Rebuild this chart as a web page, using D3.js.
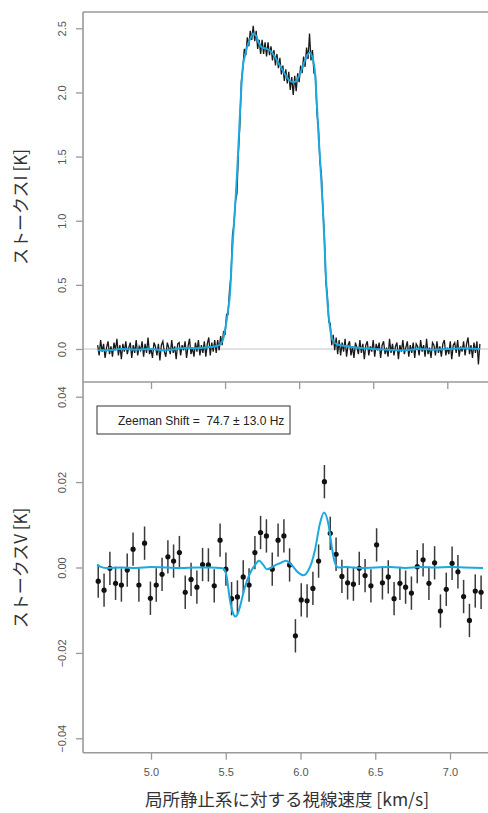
<!DOCTYPE html>
<html>
<head>
<meta charset="utf-8">
<script src="https://cdn.jsdelivr.net/npm/d3@7/dist/d3.min.js"></script>
<style>
  html, body { margin: 0; padding: 0; background: #fff; }
  svg { display: block; }
</style>
</head>
<body>
<svg id="chart" width="488" height="813"></svg>
<script>
// ---------------- DATA ----------------
// Stokes I observed spectrum (velocity channels, km/s)
const stokesIVel = [
4.64,4.65,4.66,4.67,4.68,4.69,
4.70,4.71,4.72,4.73,4.74,4.75,4.76,4.77,4.78,4.79,
4.80,4.81,4.82,4.83,4.84,4.85,4.86,4.87,4.88,4.89,
4.90,4.91,4.92,4.93,4.94,4.95,4.96,4.97,4.98,4.99,
5.00,5.01,5.02,5.03,5.04,5.05,5.06,5.07,5.08,5.09,
5.10,5.11,5.12,5.13,5.14,5.15,5.16,5.17,5.18,5.19,
5.20,5.21,5.22,5.23,5.24,5.25,5.26,5.27,5.28,5.29,
5.30,5.31,5.32,5.33,5.34,5.35,5.36,5.37,5.38,5.39,
5.40,5.41,5.42,5.43,5.44,5.45,5.46,5.47,5.48,5.49,
5.50,5.51,5.52,5.53,5.54,5.55,5.56,5.57,5.58,5.59,
5.60,5.61,5.62,5.63,5.64,5.65,5.66,5.67,5.68,5.69,
5.70,5.71,5.72,5.73,5.74,5.75,5.76,5.77,5.78,5.79,
5.80,5.81,5.82,5.83,5.84,5.85,5.86,5.87,5.88,5.89,
5.90,5.91,5.92,5.93,5.94,5.95,5.96,5.97,5.98,5.99,
6.00,6.01,6.02,6.03,6.04,6.05,6.06,6.07,6.08,6.09,
6.10,6.11,6.12,6.13,6.14,6.15,6.16,6.17,6.18,6.19,
6.20,6.21,6.22,6.23,6.24,6.25,6.26,6.27,6.28,6.29,
6.30,6.31,6.32,6.33,6.34,6.35,6.36,6.37,6.38,6.39,
6.40,6.41,6.42,6.43,6.44,6.45,6.46,6.47,6.48,6.49,
6.50,6.51,6.52,6.53,6.54,6.55,6.56,6.57,6.58,6.59,
6.60,6.61,6.62,6.63,6.64,6.65,6.66,6.67,6.68,6.69,
6.70,6.71,6.72,6.73,6.74,6.75,6.76,6.77,6.78,6.79,
6.80,6.81,6.82,6.83,6.84,6.85,6.86,6.87,6.88,6.89,
6.90,6.91,6.92,6.93,6.94,6.95,6.96,6.97,6.98,6.99,
7.00,7.01,7.02,7.03,7.04,7.05,7.06,7.07,7.08,7.09,
7.10,7.11,7.12,7.13,7.14,7.15,7.16,7.17,7.18,7.19,
7.20,7.21,7.22
];
// Stokes I observed brightness (K)
const stokesIObs = [
// 4.64 - 5.44
0.03,-0.05,0.07,-0.02,0.04,-0.07,0.01,0.06,-0.04,0.02,
-0.06,0.05,-0.01,0.08,-0.05,0.03,-0.08,0.04,-0.02,0.06,
-0.04,0.01,0.05,-0.07,0.03,-0.03,0.07,-0.05,0.02,-0.01,
0.06,-0.06,0.04,-0.03,0.09,-0.04,0.00,-0.07,0.05,0.02,
-0.05,0.04,-0.09,0.03,0.06,-0.02,-0.06,0.05,0.01,-0.04,
0.07,-0.03,0.02,-0.08,0.04,0.05,-0.05,0.03,-0.01,0.06,
-0.07,0.02,0.08,-0.04,0.01,-0.06,0.05,-0.02,0.07,-0.05,
0.03,-0.03,0.06,-0.06,0.04,0.09,-0.05,0.05,-0.02,0.07,-0.03,
// 5.45 - 6.25
0.07,-0.01,0.10,0.03,0.14,0.11,0.27,0.27,0.46,0.57,
0.89,0.97,1.15,1.21,1.53,1.75,2.09,2.19,2.34,2.29,
2.43,2.36,2.48,2.41,2.52,2.40,2.48,2.34,2.41,2.30,
2.41,2.30,2.39,2.28,2.39,2.29,2.36,2.25,2.33,2.21,
2.30,2.19,2.27,2.14,2.21,2.09,2.18,2.07,2.16,2.02,
2.12,1.98,2.13,2.01,2.15,2.08,2.21,2.15,2.28,2.20,
2.35,2.26,2.46,2.25,2.33,2.15,2.14,1.84,1.73,1.46,
1.37,1.10,0.89,0.52,0.43,0.21,0.20,0.03,0.11,-0.01,0.09,
// 6.26 - 7.22
-0.04,0.07,-0.05,0.05,-0.02,0.08,-0.06,0.03,0.06,-0.05,
0.02,-0.07,0.05,0.01,-0.04,0.07,-0.03,0.04,-0.08,0.03,
0.06,-0.05,0.02,-0.02,0.07,-0.06,0.04,-0.01,0.05,-0.07,
0.03,0.06,-0.04,0.01,-0.06,0.08,-0.03,0.04,-0.05,0.02,
0.05,-0.08,0.03,-0.02,0.07,-0.04,0.01,0.06,-0.06,0.03,
-0.03,0.05,-0.07,0.04,0.02,-0.05,0.07,-0.02,0.03,-0.06,
0.08,-0.04,0.01,-0.07,0.05,0.03,-0.05,0.06,-0.03,0.02,
-0.06,0.04,0.07,-0.05,0.01,-0.04,0.06,-0.08,0.03,0.05,
-0.03,0.07,-0.06,0.02,-0.02,0.06,-0.05,0.04,0.09,-0.04,
0.03,-0.07,0.05,-0.03,0.06,-0.12,0.04
];
// Stokes I model fit (cyan)
const fitIVel = [4.64,4.70,4.80,4.90,5.00,5.10,5.20,5.25,5.30,5.35,5.40,5.45,5.47,5.49,5.50,5.52,5.533,5.55,5.56,5.57,5.58,5.59,5.60,5.61,5.62,5.635,5.65,5.67,5.69,5.71,5.73,5.75,5.78,5.81,5.84,5.87,5.90,5.93,5.96,5.98,6.00,6.03,6.05,6.07,6.09,6.107,6.12,6.13,6.14,6.15,6.16,6.17,6.18,6.19,6.20,6.21,6.23,6.25,6.30,6.40,6.50,6.60,6.70,6.80,6.90,7.00,7.10,7.22];
const fitI    = [-0.01,-0.01,0.00,-0.005,0.00,-0.01,0.005,0.01,0.005,0.01,0.015,0.025,0.04,0.09,0.15,0.30,0.43,0.80,0.98,1.15,1.35,1.58,1.82,2.04,2.20,2.29,2.36,2.42,2.46,2.44,2.38,2.35,2.34,2.32,2.27,2.21,2.15,2.10,2.08,2.09,2.13,2.22,2.28,2.31,2.27,2.15,1.90,1.68,1.50,1.30,1.10,0.85,0.58,0.38,0.25,0.15,0.06,0.04,0.025,0.01,0.00,-0.005,-0.01,0.00,-0.005,0.00,0.005,0.00];

// Stokes V binned data (points with error bars)
const stokesVVel = [4.647,4.686,4.725,4.763,4.802,4.841,4.880,4.919,4.957,4.996,5.035,5.074,5.113,5.151,5.190,5.229,5.268,5.307,5.345,5.384,5.423,5.462,5.501,5.539,5.578,5.617,5.656,5.695,5.733,5.772,5.811,5.850,5.889,5.927,5.966,6.005,6.044,6.083,6.121,6.160,6.199,6.238,6.277,6.315,6.354,6.393,6.432,6.471,6.509,6.548,6.587,6.626,6.665,6.703,6.742,6.781,6.820,6.859,6.897,6.936,6.975,7.014,7.053,7.091,7.130,7.169,7.208];
const stokesV = [-0.0032,-0.0053,-0.0002,-0.0037,-0.0041,-0.0006,0.0043,-0.0041,0.0057,-0.0072,-0.0041,-0.0016,0.0025,0.0015,0.0035,-0.0058,-0.0028,-0.0046,0.0007,0.0006,-0.0043,0.0064,-0.0004,-0.0073,-0.0069,-0.0022,-0.0041,0.0035,0.0082,0.0074,-0.0004,0.0064,0.0074,0.0006,-0.0160,-0.0076,-0.0078,-0.0049,0.0015,0.0201,0.0080,0.0031,-0.0021,-0.0036,-0.0039,-0.0002,-0.0019,-0.0043,0.0053,-0.0036,-0.0022,-0.0073,-0.0037,-0.0046,-0.0060,0.0002,0.0018,-0.0037,0.0011,-0.0102,-0.0051,0.0010,-0.0010,-0.0068,-0.0124,-0.0055,-0.0058];
const stokesVErr = 0.0039;

// Stokes V model fit (cyan)
const fitVVel = [4.64,4.66,4.70,4.80,4.90,5.00,5.10,5.20,5.30,5.40,5.47,5.49,5.506,5.528,5.547,5.567,5.58,5.595,5.612,5.629,5.662,5.696,5.722,5.751,5.774,5.807,5.835,5.863,5.903,5.941,5.985,6.019,6.052,6.075,6.097,6.13,6.157,6.186,6.209,6.231,6.253,6.30,6.40,6.50,6.60,6.70,6.80,6.90,7.00,7.10,7.221];
const fitV    = [0.0007,0.0002,-0.0001,0.0,-0.0001,0.0001,0.0,-0.0001,0.0,0.0,-0.0001,-0.0004,-0.0021,-0.0076,-0.0105,-0.0115,-0.0108,-0.0092,-0.0068,-0.0045,-0.0014,0.0006,0.0016,0.0006,-0.0004,0.0,0.0006,0.0010,0.0016,0.0006,-0.0012,-0.0018,-0.0007,0.0012,0.0041,0.0103,0.0129,0.0103,0.0049,0.0010,0.0,0.0001,-0.0001,0.0,0.0001,-0.0001,0.0001,0.0,0.0001,0.0,-0.0001];

// Tick labels / texts
const xTicks = [5.0, 5.5, 6.0, 6.5, 7.0];
const yTicksI = [0.0, 0.5, 1.0, 1.5, 2.0, 2.5];
const yTicksV = [-0.04, -0.02, 0.00, 0.02, 0.04];
const yLabelI = "ストークスI [K]";
const yLabelV = "ストークスV [K]";
const xLabel = "局所静止系に対する視線速度 [km/s]";
const legendText = "Zeeman Shift =  74.7 ± 13.0 Hz";

// ---------------- LAYOUT ----------------
const svg = d3.select("#chart");
const L = 83, R = 489;
const topT = 12, topB = 382, botB = 752.7;
const axisCol = "#9a9a9a", tickTextCol = "#555";
const cyan = "#1ba9e0";
const numFont = "'Liberation Sans', Arial, Helvetica, sans-serif";
const jpFont = "'Noto Sans CJK JP', 'Noto Sans', sans-serif";

const xTop = d3.scaleLinear().domain([5, 7]).range([151, 447.3]);
const xBot = d3.scaleLinear().domain([5, 7]).range([151, 450]);
const yTop = d3.scaleLinear().domain([0, 2.5]).range([349, 28.3]);
const yBot = d3.scaleLinear().domain([-0.04, 0.04]).range([738.3, 396.7]);

// ---------- top panel ----------
const gTop = svg.append("g");
gTop.append("line").attr("x1", L).attr("x2", R).attr("y1", yTop(0)).attr("y2", yTop(0))
  .attr("stroke", "#c4c4c4").attr("stroke-width", 1);

const obsI = stokesIVel.map((v, i) => [v, stokesIObs[i]]);
gTop.append("path").datum(obsI)
  .attr("d", d3.line().x(d => xTop(d[0])).y(d => yTop(d[1])))
  .attr("fill", "none").attr("stroke", "#1a1a1a").attr("stroke-width", 1.3)
  .attr("stroke-linejoin", "miter");

const fitIData = fitIVel.map((v, i) => [v, fitI[i]]);
gTop.append("path").datum(fitIData)
  .attr("d", d3.line().curve(d3.curveMonotoneX).x(d => xTop(d[0])).y(d => yTop(d[1])))
  .attr("fill", "none").attr("stroke", cyan).attr("stroke-width", 2);

// ---------- bottom panel ----------
const gBot = svg.append("g");
const vData = stokesVVel.map((v, i) => ({ v, s: stokesV[i] }));
gBot.selectAll("line.err").data(vData).join("line").attr("class", "err")
  .attr("x1", d => xBot(d.v)).attr("x2", d => xBot(d.v))
  .attr("y1", d => yBot(d.s - stokesVErr)).attr("y2", d => yBot(d.s + stokesVErr))
  .attr("stroke", "#3a3a3a").attr("stroke-width", 1.5);
gBot.selectAll("circle.pt").data(vData).join("circle").attr("class", "pt")
  .attr("cx", d => xBot(d.v)).attr("cy", d => yBot(d.s)).attr("r", 2.6)
  .attr("fill", "#111");

const fitVData = fitVVel.map((v, i) => [v, fitV[i]]);
gBot.append("path").datum(fitVData)
  .attr("d", d3.line().curve(d3.curveMonotoneX).x(d => xBot(d[0])).y(d => yBot(d[1])))
  .attr("fill", "none").attr("stroke", cyan).attr("stroke-width", 2);

// legend
gBot.append("rect").attr("x", 97).attr("y", 406).attr("width", 193).attr("height", 28)
  .attr("fill", "#fff").attr("stroke", "#333").attr("stroke-width", 1);
gBot.append("text").attr("x", 118).attr("y", 424.5)
  .attr("font-family", numFont).attr("font-size", 12).attr("fill", "#222")
  .style("white-space", "pre").text(legendText);

// ---------- axes ----------
function styleAxis(g) {
  g.select(".domain").remove();
  g.selectAll(".tick line").attr("stroke", axisCol).attr("stroke-width", 1.3);
  g.selectAll(".tick text").attr("fill", tickTextCol).attr("font-family", numFont).attr("font-size", 11);
}
function rotateY(g) {
  g.selectAll(".tick text")
    .attr("transform", "rotate(-90)")
    .attr("x", 0).attr("y", -21).attr("dy", "0.35em")
    .attr("text-anchor", "middle");
}

svg.append("g").attr("transform", `translate(0,${topB})`)
  .call(d3.axisBottom(xTop).tickValues(xTicks).tickSize(7).tickSizeOuter(0).tickFormat(""))
  .call(styleAxis);
svg.append("g").attr("transform", `translate(${L},0)`)
  .call(d3.axisLeft(yTop).tickValues(yTicksI).tickSize(7).tickSizeOuter(0).tickFormat(d3.format(".1f")))
  .call(styleAxis).call(rotateY);
svg.append("g").attr("transform", `translate(0,${botB})`)
  .call(d3.axisBottom(xBot).tickValues(xTicks).tickSize(7).tickSizeOuter(0).tickPadding(9).tickFormat(d3.format(".1f")))
  .call(styleAxis);
svg.append("g").attr("transform", `translate(${L},0)`)
  .call(d3.axisLeft(yBot).tickValues(yTicksV).tickSize(7).tickSizeOuter(0).tickFormat(d3.format(".2f")))
  .call(styleAxis).call(rotateY);
svg.selectAll(".tick text").text(function() { return this.textContent.replace("-", "\u2212"); });

// frame lines
const frame = svg.append("g").attr("stroke", axisCol).attr("stroke-width", 1.6).attr("fill", "none");
frame.append("line").attr("x1", L).attr("x2", R).attr("y1", topT).attr("y2", topT);
frame.append("line").attr("x1", L).attr("x2", R).attr("y1", topB).attr("y2", topB);
frame.append("line").attr("x1", L).attr("x2", L).attr("y1", topT).attr("y2", botB);
frame.append("line").attr("x1", L).attr("x2", R).attr("y1", botB).attr("y2", botB);

// axis titles
svg.append("text").attr("transform", "translate(27,207) rotate(-90)")
  .attr("text-anchor", "middle").attr("font-family", jpFont).attr("font-size", 17)
  .attr("fill", "#333").text(yLabelI);
svg.append("text").attr("transform", "translate(27,568) rotate(-90)")
  .attr("text-anchor", "middle").attr("font-family", jpFont).attr("font-size", 17)
  .attr("fill", "#333").text(yLabelV);
svg.append("text").attr("x", 287).attr("y", 806)
  .attr("text-anchor", "middle").attr("font-family", jpFont).attr("font-size", 17.5)
  .attr("fill", "#333").text(xLabel);
</script>
</body>
</html>
